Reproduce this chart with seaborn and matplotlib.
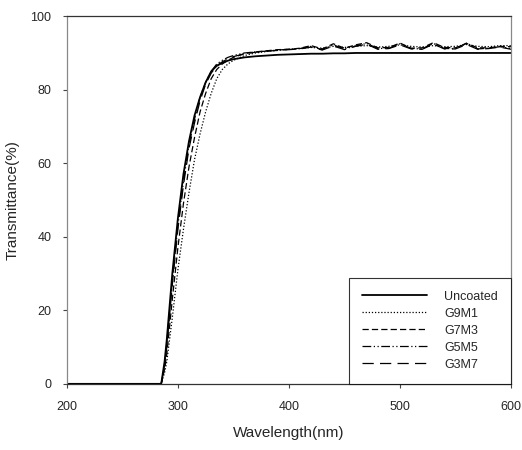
import matplotlib
matplotlib.use("Agg")
import matplotlib.pyplot as plt
import seaborn as sns

# wavelength grid (nm)
wavelength = [200, 280, 285, 288, 290, 295, 300, 305, 310, 315, 320, 325, 330, 335,
              340, 345, 350, 360, 370, 380, 390, 400, 410, 420, 430, 440, 450, 460,
              470, 480, 490, 500, 510, 520, 530, 540, 550, 560, 570, 580, 590, 600]

# transmittance (%)
uncoated = [0, 0, 0, 6, 12, 30, 45, 57, 66, 73, 78, 82, 85, 86.5,
            87.3, 87.9, 88.3, 88.8, 89.1, 89.3, 89.5, 89.6, 89.7, 89.8, 89.8, 89.9, 89.9, 90,
            90, 90, 90, 90, 90, 90, 90, 90, 90, 90, 90, 90, 90, 90]
g9m1 = [0, 0, 0, 3, 6, 18, 31, 42, 52, 61, 68, 74, 79, 83,
        85.5, 87, 88, 89.3, 90, 90.4, 90.7, 91, 91.2, 91.5, 91.3, 91.8, 91.5, 91.8,
        92, 91.6, 91.8, 92.2, 91.8, 91.6, 92, 91.7, 91.8, 92.3, 91.8, 91.7, 92, 92]
g7m3 = [0, 0, 0, 4, 8, 23, 37, 49, 59, 67, 74, 79, 83, 85.5,
        87, 88, 88.8, 89.8, 90.3, 90.6, 90.9, 91, 91.3, 92, 91.1, 92.5, 91.3, 92.2,
        92.8, 91.4, 91.5, 92.7, 91.3, 91.4, 92.8, 91.5, 91.4, 92.6, 91.4, 91.4, 91.8, 91.7]
g5m5 = [0, 0, 0, 5, 11, 28, 43, 55, 65, 72, 78, 82, 85, 87,
        88, 88.8, 89.3, 90, 90.3, 90.5, 90.8, 91, 91.2, 91.8, 90.9, 92.2, 91.1, 91.9,
        92.6, 91.2, 91.3, 92.5, 91.2, 91.1, 92.6, 91.2, 91.2, 92.7, 91.1, 91.3, 91.7, 91.2]
g3m7 = [0, 0, 0, 5, 10, 27, 42, 54, 64, 71, 77, 81.5, 84.5, 86.5,
        87.6, 88.4, 89, 89.8, 90.2, 90.5, 90.7, 90.9, 91.1, 91.6, 90.8, 91.9, 90.9, 91.8,
        92.4, 91, 91.2, 92.2, 91.1, 91, 92.4, 91.1, 91.1, 92.3, 91, 91.2, 91.6, 91]

series = [
    ("Uncoated", uncoated, "-", 1.3),
    ("G9M1", g9m1, (0, (1, 1.5)), 0.9),
    ("G7M3", g7m3, (0, (5, 2.5)), 0.9),
    ("G5M5", g5m5, (0, (7, 2, 1, 2, 1, 2)), 0.9),
    ("G3M7", g3m7, (0, (9, 5)), 0.9),
]

sns.set_style("ticks")
plt.rcParams["font.family"] = ["Liberation Sans", "DejaVu Sans"]

fig = plt.figure(figsize=(5.22, 4.5), dpi=100)
ax = fig.add_axes([0.128, 0.147, 0.851, 0.817])

for name, vals, ls, lw in series:
    sns.lineplot(x=wavelength, y=vals, ax=ax, color="black", linestyle=ls,
                 linewidth=lw, label=name)

ax.set_xlim(200, 600)
ax.set_ylim(0, 100)
ax.set_xticks([200, 300, 400, 500, 600])
ax.set_yticks([0, 20, 40, 60, 80, 100])
ax.tick_params(labelsize=9, length=3, width=0.8, color="#444444")
ax.tick_params(axis="x", pad=9)
ax.tick_params(axis="y", pad=8)
ax.set_xlabel("Wavelength(nm)", fontsize=11, labelpad=10)
ax.set_ylabel("Transmittance(%)", fontsize=11, labelpad=8)

for side in ["top", "right", "bottom", "left"]:
    ax.spines[side].set_visible(True)
    ax.spines[side].set_linewidth(0.9)
    ax.spines[side].set_color("#333333")
ax.spines["left"].set_color("#888888")
ax.spines["right"].set_color("#888888")

leg = ax.legend(loc="lower right", fontsize=9, frameon=True, fancybox=False,
                edgecolor="black", handlelength=5.2, handletextpad=1.4,
                borderaxespad=0, labelspacing=0.4, borderpad=1.05)
leg.get_frame().set_linewidth(0.8)

fig.savefig("out.png", dpi=100)
plt.close(fig)
